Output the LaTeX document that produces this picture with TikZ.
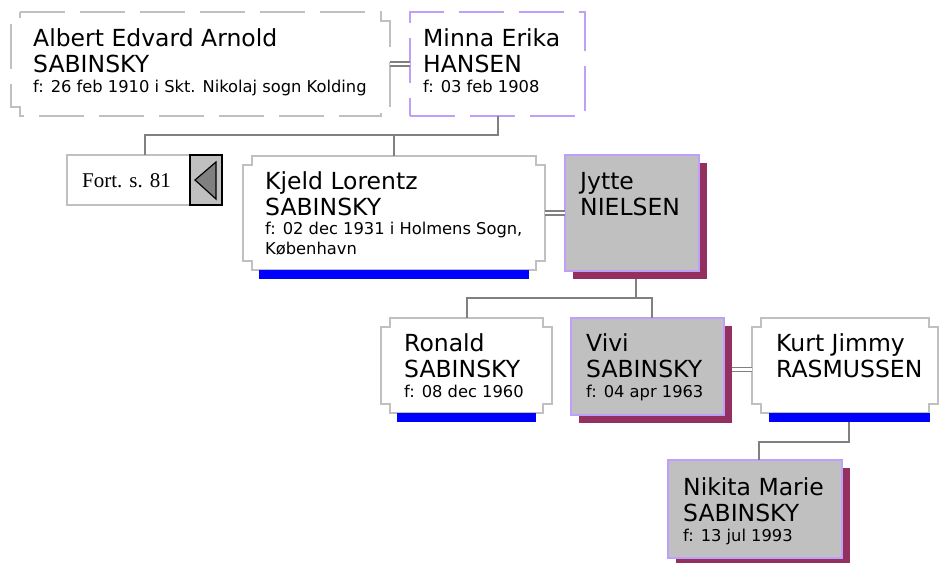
\documentclass[tikz,border=0pt]{standalone}
\usepackage{fontspec}
\setmainfont{DejaVu Sans}
\newfontfamily\fortfont{Liberation Serif}
\usetikzlibrary{calc,positioning,shadows}
\definecolor{frame}{RGB}{192,192,192}
\definecolor{wire}{RGB}{128,128,128}
\definecolor{lila}{RGB}{190,160,250}
\definecolor{shade}{RGB}{147,48,96}
\definecolor{cardgray}{RGB}{192,192,192}
\definecolor{barblue}{RGB}{0,0,255}
% outline with square notches in the corners
\newcommand{\notchbox}[2]{\draw[#2] ($(#1.north west)+(9,0)$) -- ($(#1.north east)+(-9,0)$) -- ++(0,9) -- ++(9,0) -- ($(#1.south east)+(0,-9)$) -- ++(-9,0) -- ++(0,9) -- ($(#1.south west)+(9,0)$) -- ++(0,-9) -- ++(-9,0) -- ($(#1.north west)+(0,9)$) -- ++(9,0) -- cycle;}
\newcommand{\bluebar}[1]{\fill[barblue] ($(#1.south west)+(16,0)$) rectangle ($(#1.south east)+(-16,9)$);}
\tikzset{
  card/.style={inner sep=0pt, outer sep=0pt, anchor=north west},
  graycard/.style={card, fill=cardgray, draw=lila, line width=2pt,
    drop shadow={shadow xshift=8pt, shadow yshift=-8pt, fill=shade, opacity=1}},
  nametext/.style={font=\fontsize{23.5}{26}\selectfont, align=left, inner sep=0pt, anchor=base west},
  infotext/.style={font=\fontsize{16.3}{20}\selectfont, align=left, inner sep=0pt, anchor=base west},
  conn/.style={draw=wire, line width=2pt},
  marriage/.style={draw=wire, line width=1.5pt, double=white, double distance=2.5pt}
}
\begin{document}
\begin{tikzpicture}[x=1pt,y=-1pt]
  \useasboundingbox (0,0) rectangle (939,562);
  % boxes
  \node[card, minimum width=379pt, minimum height=104pt] (albert) at (11,12) {};
  \notchbox{albert}{frame, line width=1.6pt, dash pattern=on 45pt off 15pt}
  \node[card, draw=lila, line width=1.6pt, dash pattern=on 45pt off 15pt, minimum width=175pt, minimum height=104pt] (minna) at (410,12) {};
  \node[card, draw=frame, line width=2pt, minimum width=155pt, minimum height=50pt] (fort) at (67,155) {};
  \node[card, fill=cardgray, draw=black, line width=1.2pt, minimum width=32pt, minimum height=50pt] (back) at (190,155) {};
  \draw[fill=wire, line width=1.2pt] ($(back.west)+(5,0)$) -- ($(back.north east)+(-6,7)$) -- ($(back.south east)+(-6,-6)$) -- cycle;
  \node[card, minimum width=302pt, minimum height=114pt] (kjeld) at (243,156) {};
  \notchbox{kjeld}{frame, line width=2pt} \bluebar{kjeld}
  \node[graycard, minimum width=134pt, minimum height=116pt] (jytte) at (565,155) {};
  \node[card, minimum width=171pt, minimum height=95pt] (ronald) at (381,318) {};
  \notchbox{ronald}{frame, line width=2pt} \bluebar{ronald}
  \node[graycard, minimum width=153pt, minimum height=97pt] (vivi) at (571,318) {};
  \node[card, minimum width=186pt, minimum height=95pt] (kurt) at (752,318) {};
  \notchbox{kurt}{frame, line width=2pt}
  \fill[barblue] ($(kurt.south west)+(17,0)$) rectangle ($(kurt.south east)+(-8,9)$);
  \node[graycard, minimum width=174pt, minimum height=98pt] (nikita) at (668,460) {};
  % texts (base = last line)
  \node[nametext] (albert-n) at (33,72) {Albert Edvard Arnold\\SABINSKY};
  \node[infotext] (albert-i) at (33,92) {f: 26 feb 1910 i Skt. Nikolaj sogn Kolding};
  \node[nametext] (minna-n) at (423,72) {Minna Erika\\HANSEN};
  \node[infotext] (minna-i) at (423,92) {f: 03 feb 1908};
  \node[font=\fortfont\fontsize{21}{24}\selectfont, inner sep=0pt, anchor=base west] (fort-t) at (82,187) {Fort. s. 81};
  \node[nametext] (kjeld-n) at (265,215) {Kjeld Lorentz\\SABINSKY};
  \node[infotext] (kjeld-i) at (265,254) {f: 02 dec 1931 i Holmens Sogn,\\København};
  \node[nametext] (jytte-n) at (580,215) {Jytte\\NIELSEN};
  \node[nametext] (ronald-n) at (404,377) {Ronald\\SABINSKY};
  \node[infotext] (ronald-i) at (404,397) {f: 08 dec 1960};
  \node[nametext] (vivi-n) at (586,377) {Vivi\\SABINSKY};
  \node[infotext] (vivi-i) at (586,397) {f: 04 apr 1963};
  \node[nametext] (kurt-n) at (776,377) {Kurt Jimmy\\RASMUSSEN};
  \node[nametext] (nikita-n) at (683,521) {Nikita Marie\\SABINSKY};
  \node[infotext] (nikita-i) at (683,541) {f: 13 jul 1993};
  % couples
  \draw[marriage] (albert.east) -- (minna.west);
  \draw[marriage] (kjeld.east) -- (jytte.west);
  \draw[marriage] ($(vivi.east)+(8,3)$) -- ($(vivi.east -| kurt.west)+(0,3)$);
  % children
  \coordinate (g1) at ($(minna.south)+(0,19)$);
  \draw[conn] (minna.south) -- (g1) -| (fort.north);
  \draw[conn] (g1 -| kjeld.north) -- (kjeld.north);
  \draw[conn] ($(jytte.south)+(4,8)$) -- ++(0,19);
  \draw[conn] (ronald.north) |- ($(vivi.north)+(4,-20)$) -- ($(vivi.north)+(4,0)$);
  \draw[conn] ($(kurt.south)+(4,9)$) |- ($(nikita.north)+(4,-18)$) -- ($(nikita.north)+(4,0)$);
\end{tikzpicture}
\end{document}
